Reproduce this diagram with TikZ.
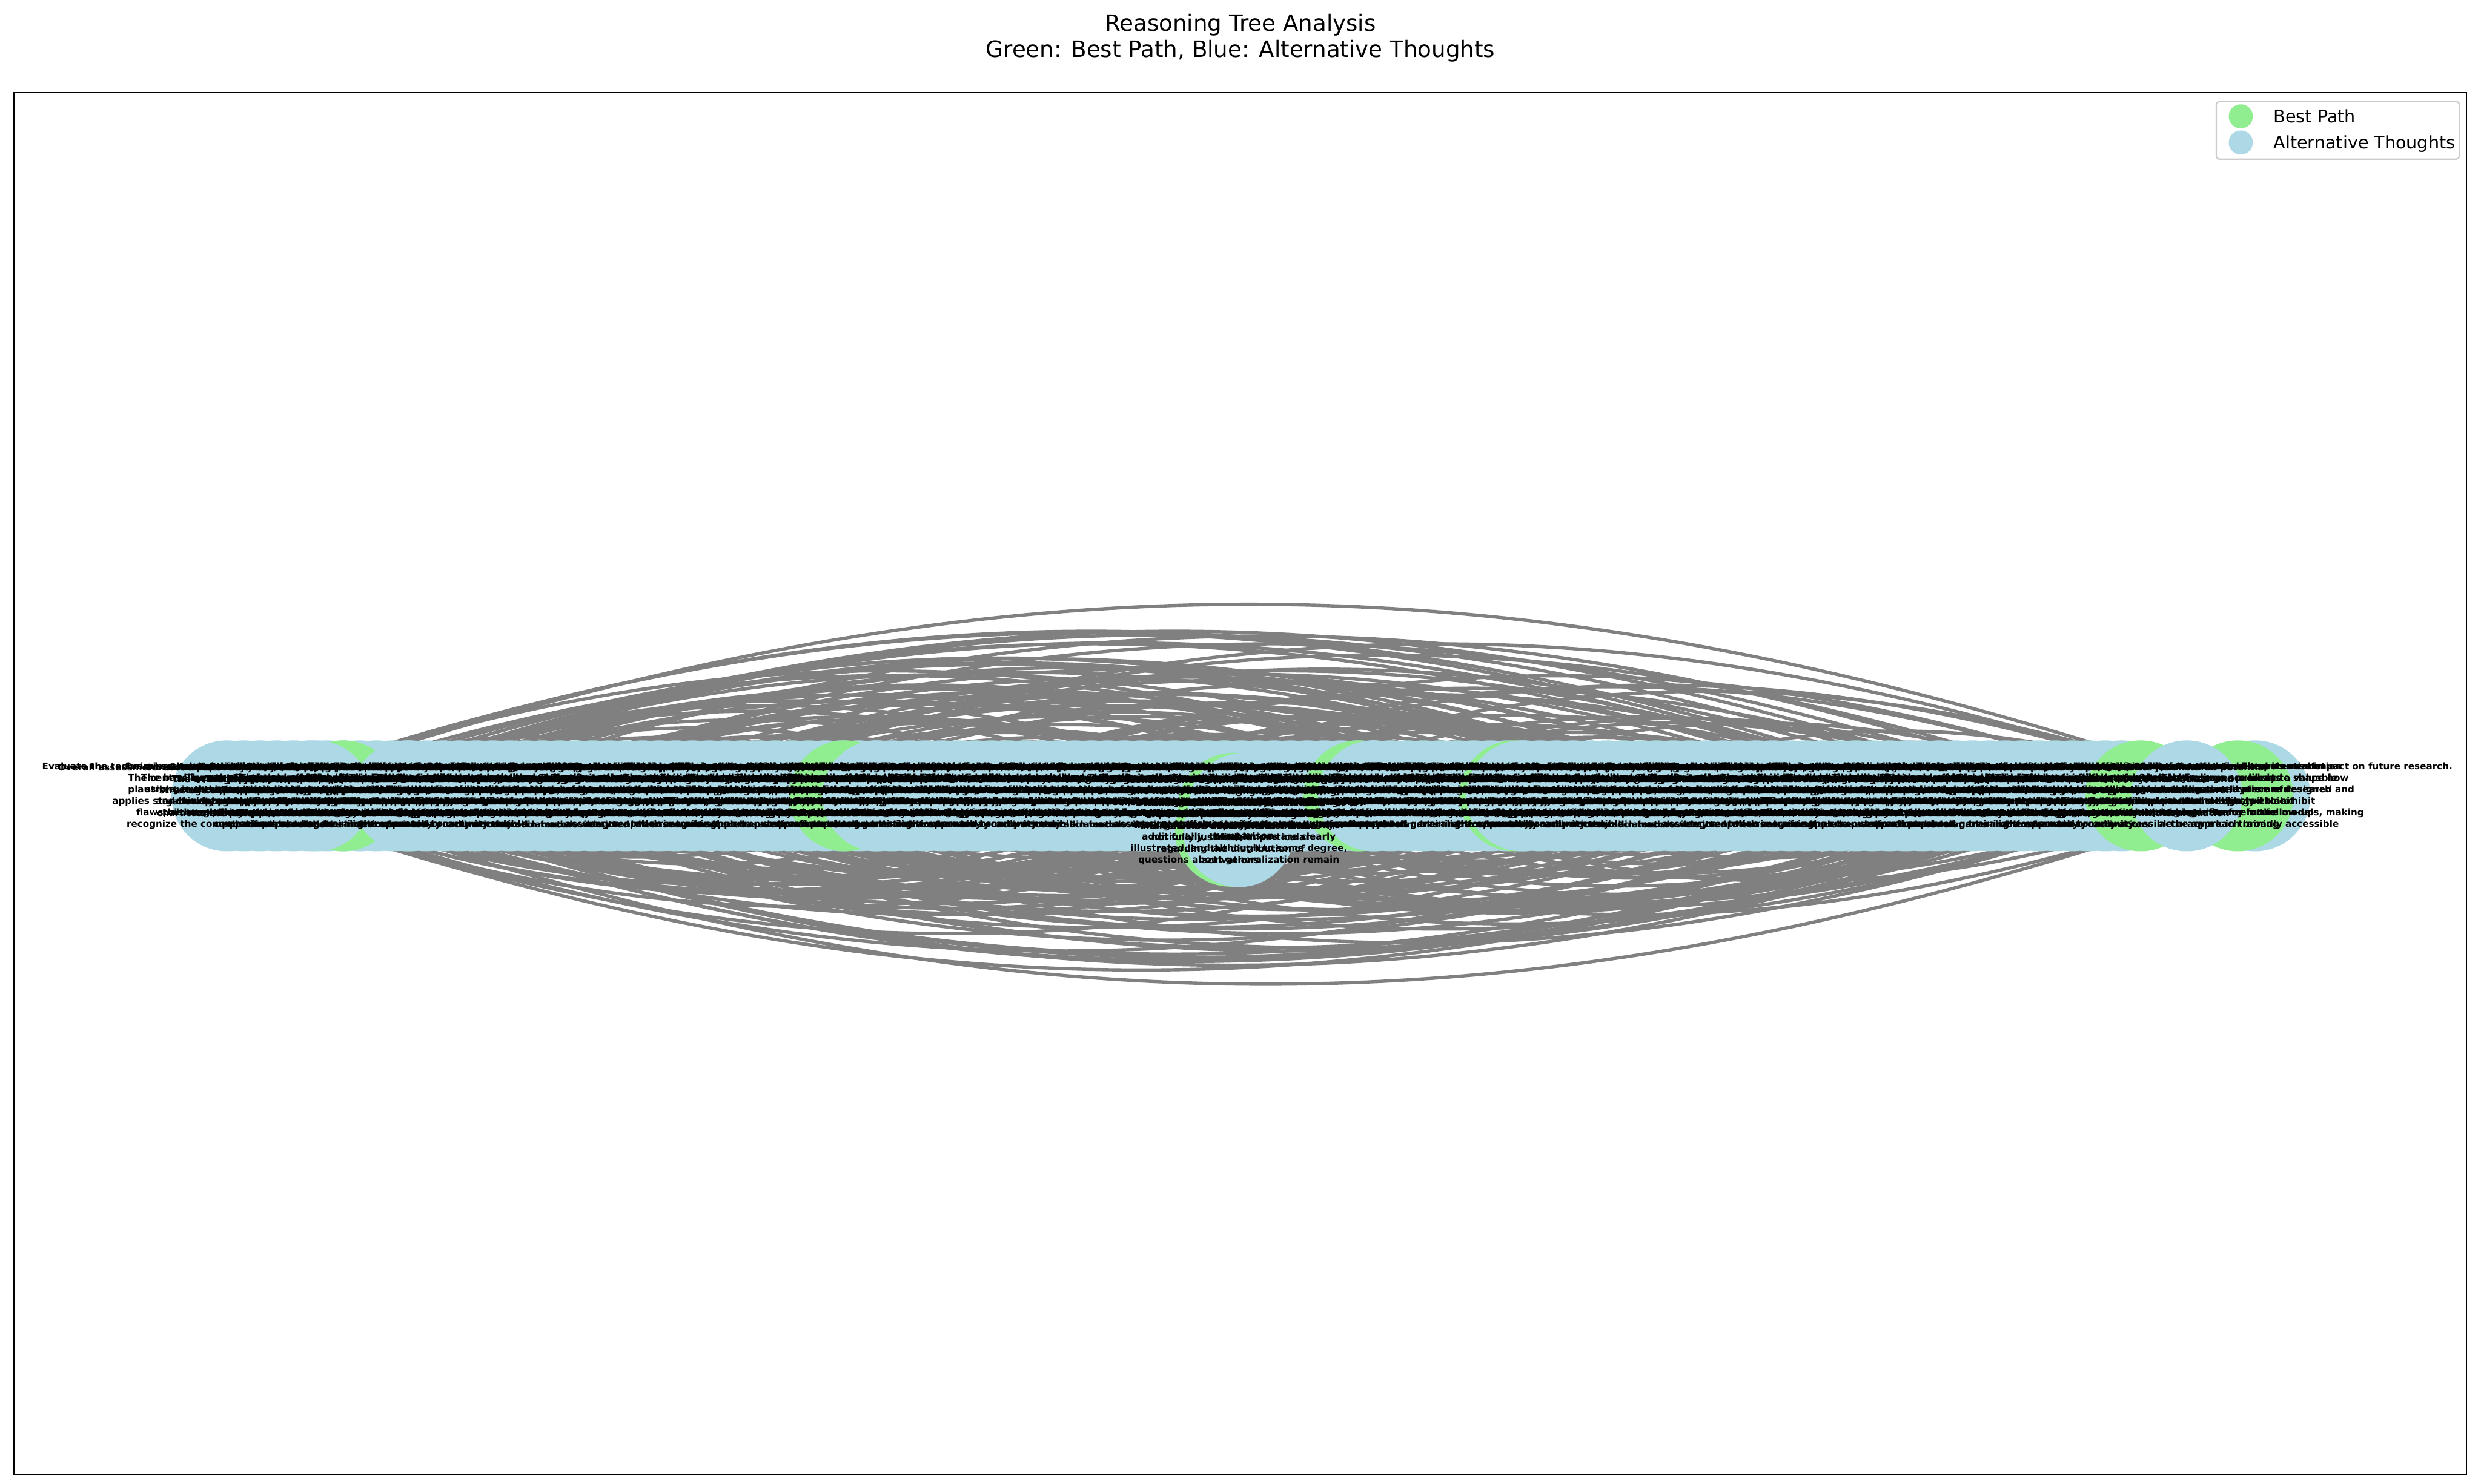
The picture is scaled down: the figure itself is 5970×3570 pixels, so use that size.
\documentclass[tikz,border=0pt]{standalone}
\usepackage{fontspec}
\setmainfont{DejaVu Sans}
\definecolor{lgreen}{HTML}{90EE90}
\definecolor{lblue}{HTML}{ADD8E6}
\definecolor{egray}{HTML}{808080}
\definecolor{lgframe}{HTML}{CCCCCC}
\pgfdeclarelayer{bglayer}
\pgfdeclarelayer{edgelayer}
\pgfsetlayers{bglayer,edgelayer,main}
\expandafter\def\csname ltx1\endcsname{Evaluate the technical soundness of the methodology and experiments\\The central hypothesis of the paper is\\plausible, and the experimental setup\\applies standard benchmarks without major\\flaws, although the authors should\\recognize the computational overhead}
\expandafter\def\csname ltx2\endcsname{Assess whether the empirical results support the main claims\\These results are convincing overall\\and the comparisons with strong baselines\\appear fair and reproducible, but a few\\implementation details are missing from\\the main text}
\expandafter\def\csname ltx3\endcsname{Consider the novelty relative to prior normalization work\\The proposed method is a modest\\extension of existing normalization\\schemes, yet it is carefully adapted\\to the patch-based structure of vision\\models}
\expandafter\def\csname ltx4\endcsname{Examine the related work and positioning\\The related work section is broad\\and places the contribution within\\the literature on normalization,\\though some recent methods are\\omitted}
\expandafter\def\csname ltx5\endcsname{Overall coherence and scientific merit\\The paper presents a novel\\approach to Layer\\Normalization in Vision\\Transformers through the\\introd}
\expandafter\def\csname ltx6\endcsname{Overall clarity of writing\\The manuscript is clearly organized\\although several passages are dense\\and the notation changes between\\sections, which may confuse\\readers}
\expandafter\def\csname ltx7\endcsname{Assess the motivation and problem statement\\The motivation is stated clearly\\and the problem of unstable training\\in deep transformers is relevant\\to a large part of the vision\\community}
\expandafter\def\csname ltx8\endcsname{Overall assessment of the paper's coherence and scientific merit\\the writing style and\\structure of the paper are\\generally clear, but it is\\characterized by excessive\\verb}
\expandafter\def\csname ltx9\endcsname{Evaluate the statistical significance of the gains\\The reported improvements are small\\and no confidence intervals or\\variance across random seeds are\\provided, which weakens the main\\claims}
\expandafter\def\csname ltx10\endcsname{Identify the main strengths of the paper\\The paper is well motivated and the\\proposed normalization variant is\\simple to implement, efficient and\\effective on several standard\\benchmarks}
\expandafter\def\csname ltx11\endcsname{Identify the main weaknesses of the paper\\The main weakness is the limited\\scope of the experiments, which are\\restricted to image classification\\and do not cover detection or\\segmentation}
\expandafter\def\csname ltx12\endcsname{Consider the reproducibility of the results\\The authors provide code and full\\hyperparameter settings, making the\\results easy to reproduce by other\\researchers working on vision\\transformers}
\expandafter\def\csname ltx13\endcsname{Assess the quality of the figures and tables\\Figures are informative, but several\\tables lack standard deviations and\\the captions are too brief to be\\understood without reading the\\text}
\expandafter\def\csname ltx14\endcsname{Evaluate the theoretical justification\\The theoretical analysis is limited\\and relies on assumptions that are\\not fully justified, in particular\\regarding the distribution of\\activations}
\expandafter\def\csname ltx15\endcsname{Examine the choice of baselines and datasets\\The baselines are reasonable, although\\stronger recent methods are missing,\\and the datasets are standard for\\this area of research and allow\\comparison}
\expandafter\def\csname ltx16\endcsname{Consider the training cost and efficiency\\The method adds negligible cost during\\training and inference, which is an\\important practical advantage for\\large-scale deployment of these\\models}
\expandafter\def\csname ltx17\endcsname{Consider the depth of the analysis of the method\\The paper offers a detailed study of\\the normalization statistics in each layer\\additionally, the ablations are clearly\\illustrated, and although to some degree,\\questions about generalization remain}
\expandafter\def\csname ltx18\endcsname{Evaluate the discussion of limitations\\The limitations section is short and\\does not discuss failure cases or the\\sensitivity of the method to the choice\\of hyperparameters such as the\\epsilon}
\expandafter\def\csname ltx19\endcsname{Assess the soundness of the ablation studies\\The ablations isolate each component\\of the method and confirm that the\\learnable scaling factor is the main\\source of the improvement in\\accuracy}
\expandafter\def\csname ltx20\endcsname{Consider the generality of the approach\\The approach could be applied to other\\architectures, but this is not shown\\experimentally and remains a claim\\that requires further empirical\\support}
\expandafter\def\csname ltx21\endcsname{Overall assessment of the paper's contribution to the field\\The paper makes a solid contribution\\by showing that normalization choices\\matter for transformers in vision and\\by proposing a practical and simple\\remedy}
\expandafter\def\csname ltx22\endcsname{Examine the structure of the paper\\The overall structure of the paper\\is logical, and the sections follow\\a clear progression from motivation\\to method, experiments and\\conclusions}
\expandafter\def\csname ltx23\endcsname{Overall clarity of writing and presentation\\the writing style and the structure\\of the paper are clear and concise\\making the paper professional, and\\the content is easy to follow and\\accessible}
\expandafter\def\csname ltx24\endcsname{Overall, the potential limitations for the community\\The proposed changes may not transfer\\to very large models, and the authors\\should clarify whether the benefits\\persist at scale with longer\\training}
\expandafter\def\csname ltx25\endcsname{Consider the ethical implications of the work\\The work raises no particular ethical\\concerns, as it focuses on a generic\\architectural component evaluated on\\public datasets with standard\\licenses}
\expandafter\def\csname ltx26\endcsname{Assess the significance of the results\\The results are significant for the\\community because normalization is a\\core component of nearly every modern\\vision transformer in use\\today}
\expandafter\def\csname ltx27\endcsname{Evaluate the presentation of the method\\The method is presented with clear\\equations and pseudocode, which makes\\the proposed modification simple to\\understand and integrate into\\codebases}
\expandafter\def\csname ltx28\endcsname{Consider the experimental rigor\\The evaluation follows a rigorous\\protocol with multiple runs, and the\\reported numbers are consistent with\\those in previous publications\\overall}
\expandafter\def\csname ltx29\endcsname{Assess the clarity of the contributions\\The contributions are clearly listed\\in the introduction and each of them\\is supported by at least one of the\\experiments presented in the\\paper}
\expandafter\def\csname ltx30\endcsname{Consider the contribution to the field and its assets\\the paper demonstrates a sound and\\rigorous approach to normalization and\\a careful experimental design, with an\\improvement in consistency in the\\accuracy a}
\expandafter\def\csname ltx31\endcsname{Overall contribution to the field and its potential\\the paper demonstrates a clear and\\generous approach to the research\\problem and a rigorous experimental design\\with consistency in the evaluation\\or}
\expandafter\def\csname ltx32\endcsname{Summarize the overall recommendation\\Overall, the paper presents a valuable\\and well executed piece of research\\that will likely exhibit\\strong influence on follow-up\\work in training}
\expandafter\def\csname ltx33\endcsname{Overall significance of the work and its potential impact on future research.\\The findings are likely to shape how\\normalization layers are designed and\\are expected to exhibit\\strong benefits for future models, making\\the approach broadly accessible}
\begin{document}
\begin{tikzpicture}[x=0.1pt,y=-0.1pt,
  bluenode/.style={circle,fill=lblue,draw=none,minimum size=26.7pt,inner sep=0pt},
  greennode/.style={circle,fill=lgreen,draw=none,minimum size=26.7pt,inner sep=0pt},
  edgeline/.style={draw=egray,line width=0.79pt},
  lbl/.style={font=\fontsize{2.21}{2.75}\selectfont\bfseries,align=center,inner sep=0pt,text=black},
  legtext/.style={font=\fontsize{4.17}{5}\selectfont,anchor=base west,inner sep=0pt},
  titletext/.style={font=\fontsize{5.42}{6.5}\selectfont,anchor=base,inner sep=0pt}]
\useasboundingbox (0,0) rectangle (5970,3570);
\begin{pgfonlayer}{bglayer}
\fill[white] (0,0) rectangle (5970,3570);
\end{pgfonlayer}

% title
\node[titletext] (title1) at (2985,75) {Reasoning Tree Analysis};
\node[titletext] (title2) at (2985,138) {Green: Best Path, Blue: Alternative Thoughts};

% axes frame
\draw[line width=0.333pt] (34,223) rectangle (5935,3548);

% base nodes (alternative thoughts)
\foreach \i in {1,...,115}{%
  \pgfmathsetmacro\xx{546+40*(\i-1)}%
  \node[bluenode] (n\i) at (\xx,1915) {};
}
% best path nodes
\node[greennode] (n116) at (826,1915) {};
\node[greennode] (n117) at (2033,1915) {};
\node[greennode] (n118) at (2968,1945) {};
\node[greennode] (n119) at (2961,2000) {};
\node[greennode] (n120) at (3270,1915) {};
\node[greennode] (n121) at (3645,1915) {};
\node[greennode] (n122) at (5151,1915) {};
% later alternative nodes
\node[bluenode] (n123) at (760,1915) {};
\node[bluenode] (n124) at (980,1915) {};
\node[bluenode] (n125) at (2112,1915) {};
\node[bluenode] (n126) at (2993,1945) {};
\node[bluenode] (n127) at (2981,2001) {};
\node[bluenode] (n128) at (3305,1915) {};
\node[bluenode] (n129) at (3662,1915) {};
\node[bluenode] (n130) at (5426,1915) {};
\node[greennode] (n131) at (5385,1915) {};
\node[bluenode] (n132) at (5262,1915) {};

% edges (below the nodes)
\begin{pgfonlayer}{edgelayer}
\pgfmathsetseed{7}
\foreach \k in {1,...,400}{%
  \pgfmathrandominteger{\ea}{1}{132}%
  \pgfmathrandominteger{\eb}{1}{132}%
  \ifnum\ea=\eb\relax\else
    \draw[edgeline] (n\ea.center) to[bend left=19] (n\eb.center);
  \fi
}
\end{pgfonlayer}

% labels of the base nodes
\foreach \i in {1,...,115}{%
  \pgfmathtruncatemacro\j{mod(7*\i,33)+1}%
  \node[lbl] (f\i) at (n\i) {\csname ltx\j\endcsname};
}
% labels of the other nodes
\node[lbl] (t1) at (546,1915) {\csname ltx1\endcsname};
\node[lbl] (t5) at (1233,1915) {\csname ltx5\endcsname};
\node[lbl] (t8) at (1658,1915) {\csname ltx8\endcsname};
\node[lbl] (t116) at (n116) {\csname ltx2\endcsname};
\node[lbl] (t117) at (n117) {\csname ltx10\endcsname};
\node[lbl] (t118) at (n118) {\csname ltx16\endcsname};
\node[lbl] (t119) at (n119) {\csname ltx14\endcsname};
\node[lbl] (t120) at (n120) {\csname ltx19\endcsname};
\node[lbl] (t121) at (n121) {\csname ltx21\endcsname};
\node[lbl] (t122) at (n122) {\csname ltx31\endcsname};
\node[lbl] (t123) at (n123) {\csname ltx3\endcsname};
\node[lbl] (t124) at (n124) {\csname ltx4\endcsname};
\node[lbl] (t125) at (n125) {\csname ltx11\endcsname};
\node[lbl] (t126) at (n126) {\csname ltx15\endcsname};
\node[lbl] (t127) at (n127) {\csname ltx17\endcsname};
\node[lbl] (t128) at (n128) {\csname ltx20\endcsname};
\node[lbl] (t129) at (n129) {\csname ltx22\endcsname};
\node[lbl] (t130) at (n130) {\csname ltx33\endcsname};
\node[lbl] (t131) at (n131) {\csname ltx32\endcsname};
\node[lbl] (t132) at (n132) {\csname ltx30\endcsname};

% legend
\draw[draw=lgframe,line width=0.333pt,fill=white,fill opacity=0.8,rounded corners=0.83pt] (5333,244) rectangle (5918,383);
\node[greennode,minimum size=5.8pt] (lg1) at (5392,280) {};
\node[bluenode,minimum size=5.8pt] (lg2) at (5392,343) {};
\node[legtext] (lt1) at (5469,295) {Best Path};
\node[legtext] (lt2) at (5469,358) {Alternative Thoughts};
\end{tikzpicture}
\end{document}
